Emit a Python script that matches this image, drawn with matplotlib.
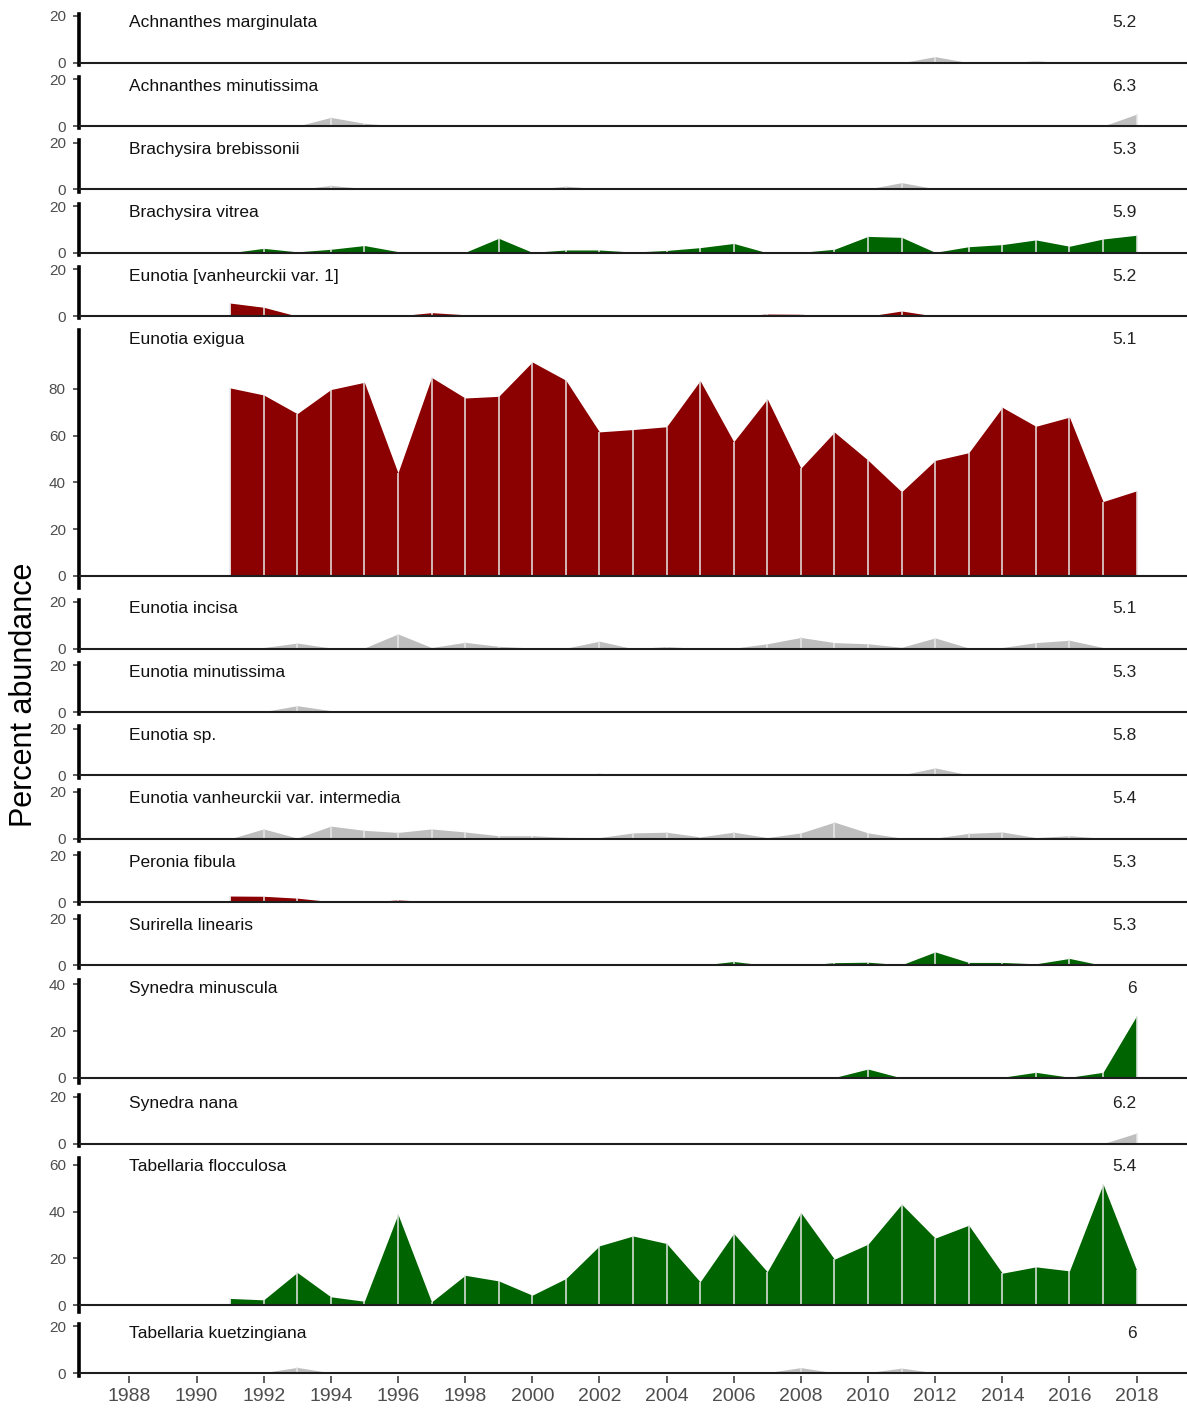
import numpy as np
import matplotlib.pyplot as plt

plt.rcParams['font.family'] = ['Liberation Sans', 'DejaVu Sans']

years = [1991, 1992, 1993, 1994, 1995, 1996, 1997, 1998, 1999, 2000,
         2001, 2002, 2003, 2004, 2005, 2006, 2007, 2008, 2009, 2010,
         2011, 2012, 2013, 2014, 2015, 2016, 2017, 2018]

taxa = ["Achnanthes marginulata", "Achnanthes minutissima", "Brachysira brebissonii",
        "Brachysira vitrea", "Eunotia [vanheurckii var. 1]", "Eunotia exigua",
        "Eunotia incisa", "Eunotia minutissima", "Eunotia sp.",
        "Eunotia vanheurckii var. intermedia", "Peronia fibula", "Surirella linearis",
        "Synedra minuscula", "Synedra nana", "Tabellaria flocculosa",
        "Tabellaria kuetzingiana"]

# pH optimum shown at the right of each panel
optima = ["5.2", "6.3", "5.3", "5.9", "5.2", "5.1", "5.1", "5.3",
          "5.8", "5.4", "5.3", "5.3", "6", "6.2", "5.4", "6"]

# response group per taxon
groups = ["neutral", "neutral", "neutral", "up", "down", "down", "neutral", "neutral",
          "neutral", "neutral", "down", "up", "up", "neutral", "up", "neutral"]
group_colors = {"neutral": "#bebebe", "up": "#006400", "down": "#8b0000"}

# percent abundance, 1991-2018
achnanthes_marginulata = [0, 0, 0, 0, 0, 0, 0, 0, 0, 0, 0, 0, 0, 0, 0, 0, 0, 0, 0, 0,
                          0, 2.6, 0, 0, 0.8, 0, 0, 0]
achnanthes_minutissima = [0, 0, 0, 3.7, 1.2, 0, 0, 0, 0, 0, 0, 0, 0, 0, 0, 0, 0, 0, 0, 0,
                          0, 0.2, 0, 0, 0, 0, 0, 5.1]
brachysira_brebissonii = [0, 0.3, 0, 1.7, 0.4, 0, 0, 0, 0.3, 0, 1.4, 0.3, 0, 0, 0, 0, 0, 0,
                          0, 0.2, 2.9, 0.3, 0.4, 0, 0.4, 0, 0, 0]
brachysira_vitrea = [0, 1.9, 0.4, 1.5, 3.1, 0.5, 0.2, 0.2, 6.2, 0.2, 1.2, 1.2, 0.3, 1.0,
                     2.2, 4.0, 0, 0.2, 1.5, 7.0, 6.6, 0.2, 2.6, 3.5, 5.5, 2.8, 5.9, 7.5]
eunotia_vanheurckii_1 = [5.6, 3.8, 0, 0, 0, 0.1, 1.5, 0.6, 0, 0, 0, 0, 0, 0, 0, 0, 0.9,
                         0.8, 0, 0, 2.2, 0, 0, 0, 0, 0, 0, 0]
eunotia_exigua = [80.4, 77.4, 69.4, 79.7, 82.8, 44.1, 84.9, 76.1, 76.8, 91.5, 83.7, 61.6,
                  62.6, 63.8, 83.5, 57.4, 75.7, 46.1, 61.5, 49.5, 36.0, 49.4, 52.7, 72.1,
                  64.0, 67.9, 31.8, 36.4]
eunotia_incisa = [0, 0.5, 2.4, 0.3, 0.3, 6.3, 0.5, 2.7, 1.0, 0.3, 0.2, 3.2, 0, 0.9, 0.1,
                  0.2, 2.1, 4.8, 2.6, 2.1, 0.6, 4.6, 0.3, 0.5, 2.6, 3.6, 0.5, 0]
eunotia_minutissima = [0, 0.2, 2.7, 0.6, 0, 0, 0, 0, 0, 0.3, 0, 0, 0, 0, 0, 0, 0, 0, 0,
                       0, 0, 0, 0, 0, 0.3, 0.3, 0.2, 0]
eunotia_sp = [0, 0, 0, 0, 0, 0.3, 0, 0, 0, 0, 0, 0.9, 0, 0, 0, 0, 0, 0, 0, 0, 0.2, 3.2,
              0.2, 0, 0, 0, 0, 0]
eunotia_vanheurckii_intermedia = [0, 4.2, 0.3, 5.4, 3.6, 2.7, 4.2, 2.9, 1.3, 1.3, 0.6, 0.5,
                                  2.5, 2.8, 0.8, 2.8, 0.5, 2.5, 7.1, 2.5, 0.3, 0.3, 2.3,
                                  2.9, 0.5, 1.3, 0.2, 0]
peronia_fibula = [2.6, 2.5, 1.7, 0.2, 0.1, 0.9, 0.3, 0, 0, 0, 0, 0.4, 0.2, 0.3, 0.2, 0.2,
                  0.2, 0.2, 0.2, 0.2, 0.3, 0.2, 0, 0.2, 0.4, 0.2, 0, 0]
surirella_linearis = [0, 0, 0, 0, 0, 0, 0, 0, 0, 0, 0.2, 0, 0, 0.2, 0.1, 1.7, 0, 0, 1.2,
                      1.4, 0.3, 5.8, 1.3, 1.3, 0.7, 3.0, 0, 0]
synedra_minuscula = [0, 0, 0, 0.3, 0.3, 0, 0, 0, 0, 0, 0, 0, 0, 0, 0, 0.3, 0, 0, 0.2,
                     3.8, 0, 0, 0, 0.3, 2.4, 0.3, 2.4, 26.6]
synedra_nana = [0, 0, 0, 0, 0, 0, 0, 0, 0, 0, 0, 0, 0, 0, 0, 0, 0, 0, 0, 0, 0, 0, 0, 0,
                0, 0, 0, 4.5]
tabellaria_flocculosa = [2.9, 2.3, 14.0, 3.6, 1.7, 38.9, 1.4, 12.8, 10.4, 4.3, 11.4, 25.4,
                         29.6, 26.4, 10.0, 30.7, 14.3, 39.6, 19.7, 26.1, 43.2, 28.7, 34.2,
                         13.7, 16.4, 14.7, 51.8, 15.0]
tabellaria_kuetzingiana = [0, 0.3, 2.5, 0.2, 0, 0, 0, 0, 0, 0, 0, 0, 0, 0, 0, 0, 0.3, 2.4,
                           0.2, 0.3, 2.2, 0.2, 0.7, 0, 0, 0, 0, 0]

series = [achnanthes_marginulata, achnanthes_minutissima, brachysira_brebissonii,
          brachysira_vitrea, eunotia_vanheurckii_1, eunotia_exigua, eunotia_incisa,
          eunotia_minutissima, eunotia_sp, eunotia_vanheurckii_intermedia, peronia_fibula,
          surirella_linearis, synedra_minuscula, synedra_nana, tabellaria_flocculosa,
          tabellaria_kuetzingiana]

# upper end of each panel's y scale
y_tops = [20, 20, 20, 20, 20, 100, 20, 20, 20, 20, 20, 20, 40, 20, 60, 20]
x_ticks = [1988, 1990, 1992, 1994, 1996, 1998, 2000, 2002, 2004, 2006, 2008, 2010,
           2012, 2014, 2016, 2018]

W, H = 1187, 1411
fig = plt.figure(figsize=(W / 100, H / 100), dpi=100)
gs = fig.add_gridspec(len(taxa), 1, height_ratios=y_tops, hspace=0.161,
                      left=79 / W, right=1.0, top=1 - 13.6 / H, bottom=1 - 1375.6 / H)

for i, (name, vals, opt, grp, top) in enumerate(zip(taxa, series, optima, groups, y_tops)):
    ax = fig.add_subplot(gs[i])
    x = np.array(years)
    y = np.array(vals, dtype=float)
    col = group_colors[grp]

    ax.fill_between(x, 0, y, color=col, linewidth=0, zorder=2)
    ax.vlines(x[y > 0], 0, y[y > 0], colors='#e8e8e8', linewidth=1.1, zorder=3)
    ax.axhline(0, color='#1e1e1e', linewidth=1.5, zorder=4)

    ax.set_xlim(1986.5, 2019.5)
    ax.set_ylim(-0.05 * top, 1.05 * top)

    for side in ['top', 'right', 'bottom']:
        ax.spines[side].set_visible(False)
    ax.spines['left'].set_linewidth(2.6)
    ax.spines['left'].set_color('black')

    ax.set_yticks(np.arange(0, min(top, 80) + 1, 20))
    ax.tick_params(axis='y', length=4.5, width=1.1, color='#333333', pad=5,
                   labelsize=11, labelcolor='#4d4d4d')

    if i == len(taxa) - 1:
        ax.set_xticks(x_ticks)
        ax.tick_params(axis='x', length=5, width=1.1, color='#333333', pad=4,
                       labelsize=14, labelcolor='#4d4d4d')
    else:
        ax.set_xticks([])

    ax.annotate(name, xy=(1988, 1), xycoords=('data', 'axes fraction'),
                xytext=(0, -9.8), textcoords='offset points',
                ha='left', va='baseline', fontsize=12.5, color='#111111')
    ax.annotate(opt, xy=(2018, 1), xycoords=('data', 'axes fraction'),
                xytext=(0, -9.8), textcoords='offset points',
                ha='right', va='baseline', fontsize=12.5, color='#222222')

fig.text(0.0205, 1 - 695 / H, "Percent abundance", rotation=90,
         ha='center', va='center', fontsize=22, color='black')

fig.savefig('out.png', dpi=100)
